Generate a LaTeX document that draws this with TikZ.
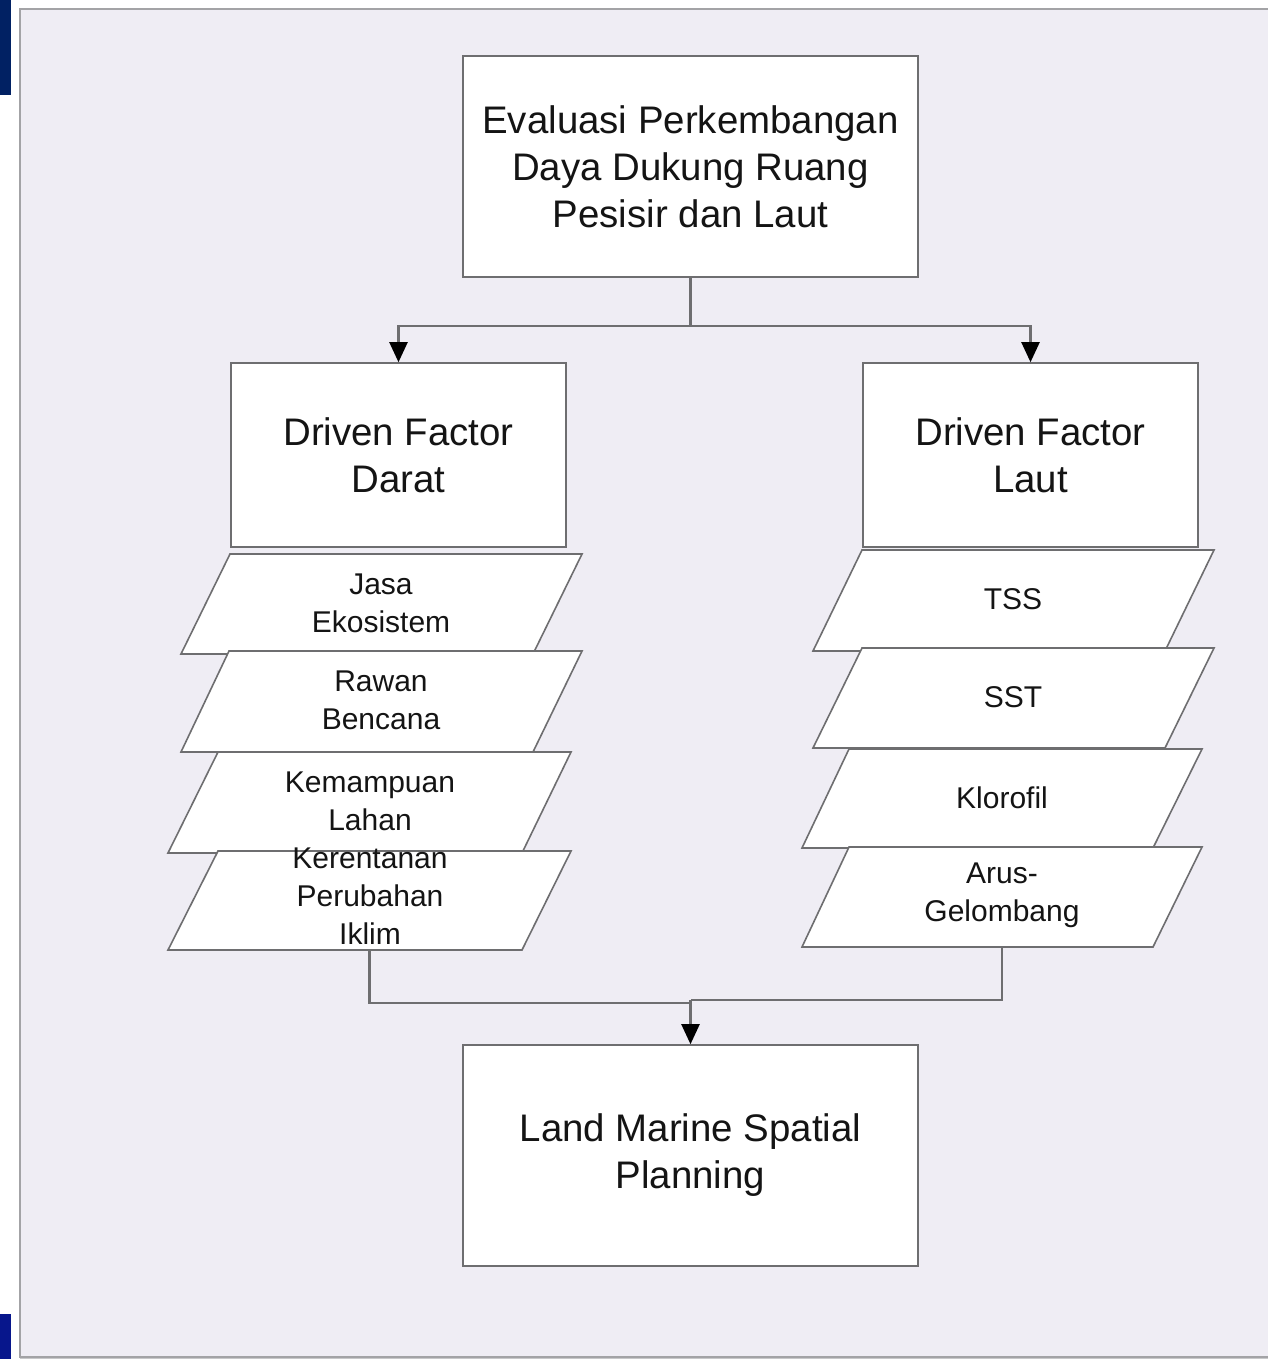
\documentclass[tikz,border=0pt]{standalone}
\usepackage{fontspec}
\setmainfont{Liberation Sans}
\usetikzlibrary{arrows.meta}
\definecolor{bgc}{HTML}{EFEDF4}
\definecolor{framec}{HTML}{A3A3A6}
\definecolor{linec}{HTML}{6E6E70}
\definecolor{navytop}{HTML}{012163}
\definecolor{navybot}{HTML}{07168C}
\definecolor{txt}{HTML}{141414}
\tikzset{
  bigbox/.style={draw=linec, line width=0.8pt, fill=white, inner sep=0pt, align=center,
    text=txt, font=\fontsize{19.2}{23.5}\selectfont},
  paratext/.style={inner sep=0pt, align=center, text=txt, font=\fontsize{15}{19}\selectfont},
  parashape/.style={draw=linec, line width=0.8pt, fill=white, line join=miter},
  conn/.style={draw=linec, line width=1.1pt},
  arr/.style={conn, -{Triangle[length=10pt,width=9pt,fill=black,color=black]}}
}
\begin{document}
\begin{tikzpicture}[x=0.5pt,y=-0.5pt]
\useasboundingbox (0,0) rectangle (1268,1359);
% side bars
\fill[navytop] (0,0) rectangle (11,95);
\fill[navybot] (0,1314) rectangle (11,1359);
% frame
\draw[framec!60, line width=2pt] (22,11) rectangle (1290,1359);
\draw[framec, line width=1.2pt, fill=bgc] (20,9) rectangle (1290,1357);

% main boxes
\node[bigbox, minimum width=227.5pt, minimum height=110.5pt] (top) at (690.5,166.5)
  {Evaluasi Perkembangan\\Daya Dukung Ruang\\Pesisir dan Laut};
\node[bigbox, minimum width=167.5pt, minimum height=92pt] (darat) at (398.5,455)
  {Driven Factor\\Darat};
\node[bigbox, minimum width=167.5pt, minimum height=92pt] (laut) at (1030.5,455)
  {Driven Factor\\Laut};
\node[bigbox, minimum width=227.5pt, minimum height=110.5pt] (lmsp) at (690.5,1155.5)
  {Land Marine Spatial\\Planning\vphantom{Ag}};

% left parallelograms
\draw[parashape] (230,554) -- (582,554) -- (533,654) -- (181,654) -- cycle;
\node[paratext] (p1) at (381,603) {Jasa\\Ekosistem};
\draw[parashape] (229,651) -- (582,651) -- (533,752) -- (181,752) -- cycle;
\node[paratext] (p2) at (381,700) {Rawan\\Bencana};
\draw[parashape] (218,752) -- (571,752) -- (522,853) -- (168,853) -- cycle;
\node[paratext] (p3) at (370,801) {Kemampuan\\Lahan};
\draw[parashape] (218,851) -- (571,851) -- (522,950) -- (168,950) -- cycle;
\node[paratext] (p4) at (370,896) {Kerentanan\\Perubahan\\Iklim};
\coordinate (p4b) at (369.5,950);

% right parallelograms
\draw[parashape] (862,550) -- (1214,550) -- (1165,651) -- (813,651) -- cycle;
\node[paratext] (r1) at (1013,599) {TSS};
\draw[parashape] (862,648) -- (1214,648) -- (1165,748) -- (813,748) -- cycle;
\node[paratext] (r2) at (1013,697) {SST};
\draw[parashape] (849,749) -- (1202,749) -- (1153,848) -- (802,848) -- cycle;
\node[paratext] (r3) at (1002,798) {Klorofil};
\draw[parashape] (849,847) -- (1202,847) -- (1153,947) -- (802,947) -- cycle;
\node[paratext] (r4) at (1002,895) {Arus-\\Gelombang};
\coordinate (r4b) at (1002,947);

% connectors top
\coordinate (split) at (690.5,326);
\draw[conn, line width=1.6pt] (top.south) -- (split);
\draw[arr] (split) -| (darat.north);
\draw[arr] (split) -| (laut.north);

% connectors bottom
\coordinate (joinL) at (690.5,1003);
\coordinate (joinR) at (690.5,1000);
\draw[conn] (p4b) |- (joinL);
\draw[conn] (r4b) |- (joinR);
\draw[arr] (joinR) -- (lmsp.north);
\end{tikzpicture}
\end{document}
